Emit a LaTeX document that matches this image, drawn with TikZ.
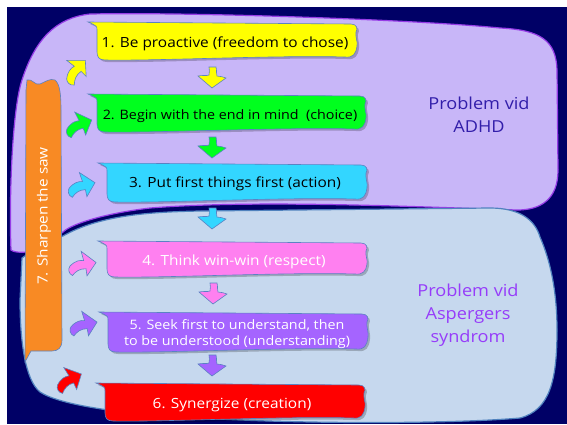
\documentclass[tikz,border=0pt]{standalone}
\usepackage{fontspec}
\setmainfont{Open Sans}[FakeStretch=1.1]
\definecolor{navy}{RGB}{0,0,102}
\definecolor{adhdfill}{RGB}{200,182,248}
\definecolor{adhdline}{RGB}{150,60,230}
\definecolor{aspfill}{RGB}{198,216,238}
\definecolor{aspline}{RGB}{80,130,190}
\definecolor{sawfill}{RGB}{248,138,36}
\definecolor{cyellow}{RGB}{255,255,0}
\definecolor{cgreen}{RGB}{0,255,30}
\definecolor{ccyan}{RGB}{51,214,255}
\definecolor{cpink}{RGB}{255,128,240}
\definecolor{cpurple}{RGB}{165,100,255}
\definecolor{cred}{RGB}{255,0,0}
\definecolor{adhdtext}{RGB}{50,30,170}
\definecolor{asptext}{RGB}{150,60,250}
\definecolor{edge}{RGB}{90,130,195}
\tikzset{
  bannerline/.style={draw=edge, line width=0.6pt},
  arrline/.style={draw=edge, line width=0.6pt},
  btext/.style={font=\fontsize{14}{16.5}\selectfont, align=center, inner sep=0pt},
  bsmall/.style={font=\fontsize{13}{16.5}\selectfont, align=center, inner sep=0pt},
  ptext/.style={font=\fontsize{16.5}{23}\selectfont, align=center, inner sep=0pt},
}
\newcommand{\banner}[5]{%
  \fill[black,opacity=.22,shift={(2,2)}] ({#2-9},{#3-2}) -- ({#4-6},{#3}) .. controls ({#4},{#3}) and ({#4+1},{#3+5}) .. ({#4-1},{#3+8}) .. controls ({#4-2},{#3+12}) and ({#4+1},{(#3+#5)/2}) .. ({#4},{(#3+#5)/2+4}) .. controls ({#4-1},{#5-6}) and ({#4-4},{#5-2}) .. ({#4-12},{#5-3}) .. controls ({#4-80},{#5-5}) and ({#2+60},{#5+1}) .. ({#2+8},{#5}) .. controls ({#2+2},{#5}) and ({#2},{#5-3}) .. ({#2},{#5-8}) -- ({#2},{#3+6}) .. controls ({#2},{#3+2}) .. cycle;
  \filldraw[bannerline,fill=#1] ({#2-9},{#3-2}) -- ({#4-6},{#3}) .. controls ({#4},{#3}) and ({#4+1},{#3+5}) .. ({#4-1},{#3+8}) .. controls ({#4-2},{#3+12}) and ({#4+1},{(#3+#5)/2}) .. ({#4},{(#3+#5)/2+4}) .. controls ({#4-1},{#5-6}) and ({#4-4},{#5-2}) .. ({#4-12},{#5-3}) .. controls ({#4-80},{#5-5}) and ({#2+60},{#5+1}) .. ({#2+8},{#5}) .. controls ({#2+2},{#5}) and ({#2},{#5-3}) .. ({#2},{#5-8}) -- ({#2},{#3+6}) .. controls ({#2},{#3+2}) .. cycle;}
\newcommand{\darr}[3]{%
  \filldraw[arrline,fill=#1,shift={(#2,#3)}] (-3,0) -- (4,0) .. controls (5,4) and (4,7) .. (5,9) .. controls (8,10) and (11,9) .. (14,11) -- (0,21) -- (-14,9) .. controls (-9,8) and (-5,9) .. (-3,8) .. controls (-2,5) and (-3,3) .. (-3,0) -- cycle;}
\newcommand{\barr}[4]{%
  \filldraw[arrline,fill=#1,shift={(#2,#3)},rotate=#4,scale=1.2] (-12,1) .. controls (-7,-3) and (-3,-3) .. (0,-2) -- (-1,-10) -- (10,1) -- (1,11) -- (1,5) .. controls (-4,4) and (-8,6) .. (-11,9) .. controls (-14,7) and (-14,3) .. (-12,1) -- cycle;}
\begin{document}
\begin{tikzpicture}[x=1pt,y=-1pt]
\useasboundingbox (0,0) rectangle (567,424);
\fill[white] (0,0) rectangle (567,424);
\fill[navy] (7,7) rectangle (567,424);
% ADHD blob
\filldraw[draw=adhdline, fill=adhdfill, line width=1.2pt] (90,14) .. controls (200,12) and (420,20) .. (500,28) .. controls (540,30) and (556,40) .. (557,70) -- (558,170) .. controls (558,200) and (540,210) .. (517,210) .. controls (400,206) and (250,200) .. (150,208) .. controls (100,214) and (70,225) .. (63,232) -- (40,250) .. controls (25,253) and (15,253) .. (11,250) .. controls (9,200) and (12,110) .. (22,80) .. controls (35,40) and (55,18) .. (90,14) -- cycle;
% Aspergers blob
\filldraw[draw=aspline, fill=aspfill, line width=1.2pt] (22,258) .. controls (40,245) and (55,238) .. (63,236) .. controls (100,215) and (150,212) .. (200,211) -- (490,208) .. controls (520,208) and (535,220) .. (540,237) .. controls (550,260) and (557,290) .. (557,330) .. controls (557,380) and (550,410) .. (520,418) .. controls (450,424) and (300,424) .. (200,418) .. controls (120,414) and (60,405) .. (40,392) .. controls (25,380) and (20,340) .. (20,300) -- cycle;
% Sharpen the saw bar
\filldraw[draw=edge, line width=0.6pt, fill=sawfill] (27,80) .. controls (32,78) and (35,86) .. (40,84) .. controls (45,82) and (50,78) .. (55,80) .. controls (60,84) and (61,95) .. (61,110) -- (62,340) .. controls (62,348) and (58,351) .. (52,351) -- (31,351) -- (25,362) -- (26,90) -- cycle;
\node[rotate=90, text=white, font=\fontsize{14}{16}\selectfont] (saw) at (44,216) {7. Sharpen the saw};
% banners
\banner{cyellow}{97}{24}{357}{60}
\banner{cgreen}{97}{96}{366}{132}
\banner{ccyan}{107}{165}{367}{202}
\banner{cpink}{107}{243}{367}{277}
\banner{cpurple}{108}{314}{368}{352}
\banner{cred}{105}{385}{365}{421}
\node[btext] (b1) at (225,44) {1. Be proactive (freedom to chose)};
\node[bsmall] (b2) at (230,116) {2. Begin with the end in mind\ \ (choice)};
\node[btext] (b3) at (235,184) {3. Put first things first (action)};
\node[btext, text=white] (b4) at (234,262) {4. Think win-win (respect)};
\node[bsmall, text=white] (b5) at (237,334) {5. Seek first to understand, then\\to be understood (understanding)};
\node[btext, text=white] (b6) at (232,405) {6. Synergize (creation)};
% down arrows
\darr{cyellow}{212}{67}
\darr{cgreen}{212}{137}
\darr{ccyan}{212}{208}
\darr{cpink}{213}{283}
\darr{cpurple}{212}{355}
% side arrows
\barr{cyellow}{76}{68}{45}
\barr{cgreen}{80}{123}{20}
\barr{ccyan}{83}{184}{12}
\barr{cpink}{84}{263}{8}
\barr{cpurple}{85}{323}{10}
\barr{cred}{70}{378}{25}
% labels
\node[ptext, text=adhdtext] (adhd) at (479,115) {Problem vid\\ADHD};
\node[ptext, text=asptext] (asp) at (468,315) {Problem vid\\Aspergers\\syndrom};
\end{tikzpicture}
\end{document}
